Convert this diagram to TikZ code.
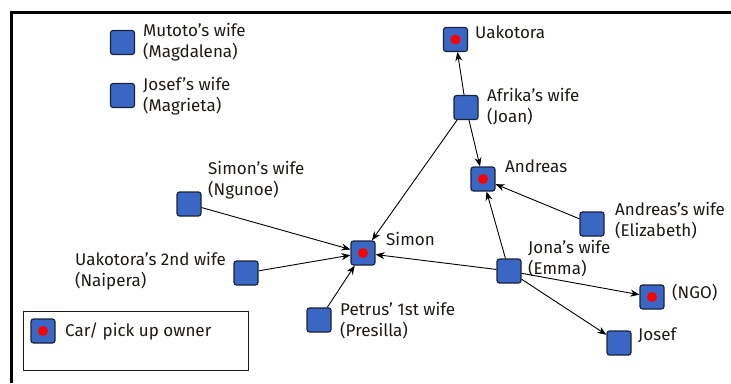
\documentclass[tikz,border=0pt]{standalone}
\usepackage{fontspec}
\setmainfont{Fira Sans}
\usetikzlibrary{arrows.meta}
\definecolor{boxblue}{RGB}{58,102,196}
\definecolor{boxedge}{RGB}{25,35,60}
\definecolor{ink}{RGB}{30,25,20}
\tikzset{
  person/.style={draw=boxedge, line width=1.2pt, fill=boxblue, rounded corners=2.5pt,
    minimum size=24pt, inner sep=0pt},
  owner/.style={person, path picture={\fill[red] (path picture bounding box.center) circle (5pt);}},
  lbl/.style={anchor=north west, inner sep=0pt, align=left, text=ink,
    font=\fontsize{17}{21}\selectfont},
  tie/.style={-{Stealth[length=9pt,width=7pt]}, line width=0.9pt, black},
}
\begin{document}
\begin{tikzpicture}[x=1pt,y=-1pt]
  \useasboundingbox (0,0) rectangle (731,383);
  \fill[white] (0,0) rectangle (731,383);
  % outer frame (top and left edges)
  \draw[line width=3pt] (731,12) -- (11,12) -- (11,383);

  % people
  \node[person] (mutotow) at (122.5,42.5) {};
  \node[person] (josefw)  at (122.5,95.5) {};
  \node[owner]  (uakotora) at (455.5,39.5) {};
  \node[person] (afrikaw) at (466,107.5) {};
  \node[owner]  (andreas) at (483,179) {};
  \node[owner]  (simon)   at (363,253) {};
  \node[person] (simonw)  at (189,204) {};
  \node[person] (uakow2)  at (246,273) {};
  \node[person] (petrusw) at (319,320) {};
  \node[person] (andreasw) at (592,224) {};
  \node[person] (jonaw)   at (509,271) {};
  \node[owner]  (ngo)     at (652,297) {};
  \node[person] (josef)   at (619,343) {};

  % labels
  \node[lbl] (tmutotow) at (143,23) {Mutoto's wife\\(Magdalena)};
  \node[lbl] (tjosefw) at (143,77) {Josef's wife\\(Magrieta)};
  \node[lbl] (tuakotora) at (475,26) {Uakotora};
  \node[lbl] (tafrikaw) at (487,88) {Afrika's wife\\(Joan)};
  \node[lbl] (tandreas) at (505,160) {Andreas};
  \node[lbl] (tsimonw) at (208,161) {Simon's wife\\(Ngunoe)};
  \node[lbl] (tsimon) at (386,232) {Simon};
  \node[lbl, anchor=north east] (tuakow2) at (226,252) {Uakotora's 2nd wife\\(Naipera)};
  \node[lbl] (tpetrusw) at (340,302) {Petrus' 1st wife\\(Presilla)};
  \node[lbl] (tandreasw) at (615,202) {Andreas's wife\\(Elizabeth)};
  \node[lbl] (tjonaw) at (528,240) {Jona's wife\\(Emma)};
  \node[lbl] (tngo) at (672,284) {(NGO)};
  \node[lbl] (tjosef) at (638,328) {Josef};

  % ties
  \draw[tie] (afrikaw) -- (uakotora);
  \draw[tie] (afrikaw) -- (andreas);
  \draw[tie] (afrikaw) -- (simon);
  \draw[tie] (andreasw) -- (andreas);
  \draw[tie] (simonw) -- (simon);
  \draw[tie] (uakow2) -- (simon);
  \draw[tie] (petrusw) -- (simon);
  \draw[tie] (jonaw) -- (simon);
  \draw[tie] (jonaw) -- (andreas);
  \draw[tie] (jonaw) -- (ngo);
  \draw[tie] (jonaw) -- (josef);

  % legend
  \node[draw=ink, line width=1pt, minimum width=225pt, minimum height=59pt, inner sep=0pt]
    (legend) at (135.5,340.5) {};
  \node[owner] (legendkey) at (43,331) {};
  \node[lbl, anchor=west] (legendtext) at (65,331) {Car/ pick up owner};
\end{tikzpicture}
\end{document}
